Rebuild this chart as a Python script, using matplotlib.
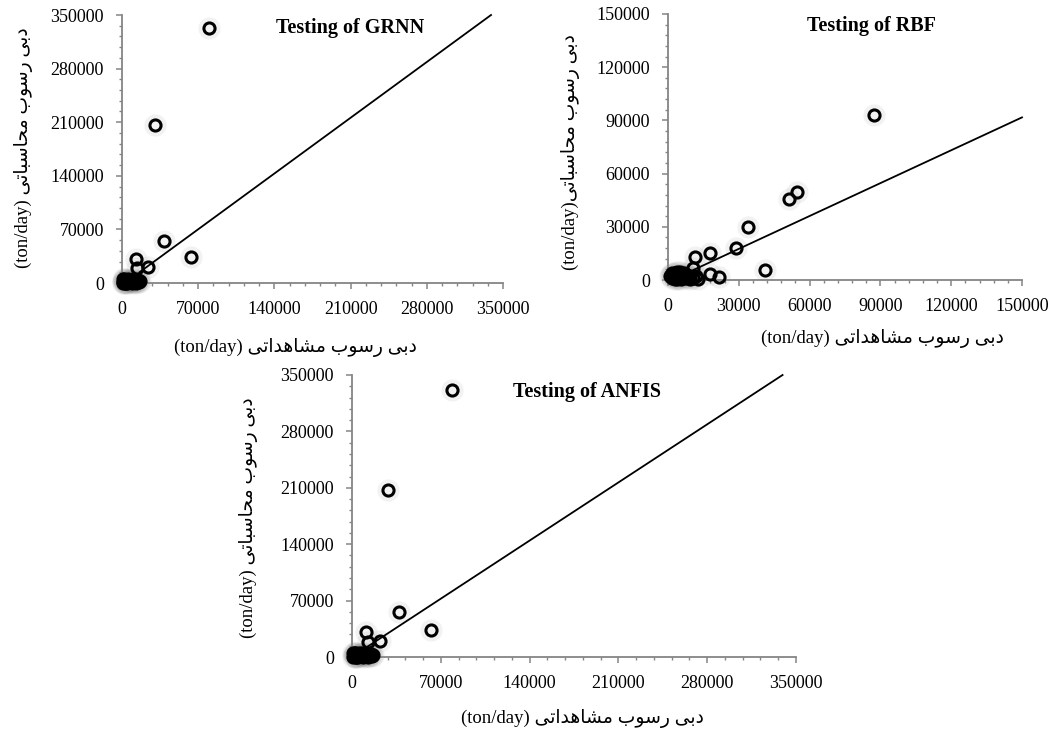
import matplotlib
matplotlib.use("Agg")
import matplotlib.pyplot as plt
from matplotlib.ticker import MultipleLocator

# ---------------- data ----------------
# GRNN testing: observed (x) vs computed (y), ton/day
grnn_obs = [79500, 30000, 38900, 63400, 12600, 23600, 14200,
            500, 1200, 2000, 3000, 4000, 5000, 6500, 8000, 9500, 11000,
            12500, 14000, 15500, 1500, 3500, 7000, 10000, 13000, 2500, 6000,
            800, 2200, 4500, 5800, 7500, 9000, 10500, 12000, 14800, 16500]
grnn_pred = [333000, 206300, 54400, 33500, 31300, 21300, 19200,
             300, 800, 1500, 600, 2500, 1200, 3000, 900, 2000, 1500,
             800, 2500, 1000, 3500, 400, 2200, 3000, 500, 4500, 4000,
             5000, 5500, 200, 5000, 4500, 600, 5200, 3800, 4200, 2000]
grnn_fit_x = [16000, 339000]
grnn_fit_y = [14000, 350000]

# RBF testing
rbf_obs = [87400, 54800, 51300, 33900, 28700, 41000, 17600, 11400, 17700, 21400, 10600, 12700,
           800, 1500, 2500, 3500, 4500, 5500, 6500, 7500, 8500, 9500, 2000, 3000, 4000, 5000,
           6000, 7000, 1200, 2800, 4200, 9000, 1800, 3800, 5200, 6800, 8200, 10500, 11800]
rbf_pred = [93000, 49400, 45500, 30100, 17800, 5600, 15400, 12800, 3400, 1700, 6600, 300,
            2000, 1000, 2500, 1500, 3000, 800, 2200, 1200, 1800, 600, 3500, 4000, 500, 2800,
            1500, 3200, 2600, 600, 1000, 2400, 4200, 4600, 4400, 3800, 3000, 1200, 2500]
rbf_fit_x = [9200, 150000]
rbf_fit_y = [4700, 91700]

# ANFIS testing
anfis_obs = [78700, 28300, 37100, 62300, 10800, 22100, 12900,
             500, 1200, 2000, 3000, 4000, 5000, 6500, 8000, 9500, 11000,
             12500, 14000, 15500, 1500, 3500, 7000, 10000, 13000, 2500, 6000,
             800, 2200, 4500, 5800, 7500, 9000, 10500, 12000, 14800, 16500]
anfis_pred = [332000, 207200, 55800, 33300, 31200, 20400, 19000,
              300, 800, 1500, 600, 2500, 1200, 3000, 900, 2000, 1500,
              800, 2500, 1000, 3500, 400, 2200, 3000, 500, 4500, 4000,
              5000, 5500, 200, 5000, 4500, 600, 5200, 3800, 4200, 2000]
anfis_fit_x = [10250, 339400]
anfis_fit_y = [10800, 350000]

ticks_350 = [0, 70000, 140000, 210000, 280000, 350000]
ticks_150 = [0, 30000, 60000, 90000, 120000, 150000]

titles = ["Testing of GRNN", "Testing of RBF", "Testing of ANFIS"]

# Persian labels, written in visual (shaped, left-to-right) order
def _s(codes):
    return "".join(chr(c) for c in codes)

w_dabi = _s([0xFBFD, 0xFE91, 0xFEA9])                                   # دبی
w_rosub = _s([0xFE8F, 0xFEEE, 0xFEB3, 0xFEAD])                          # رسوب
w_mohasebati = _s([0xFBFD, 0xFE97, 0xFE8E, 0xFE92, 0xFEB3, 0xFE8E, 0xFEA4, 0xFEE3])  # محاسباتی
w_moshahedati = _s([0xFBFD, 0xFE97, 0xFE8D, 0xFEAA, 0xFEEB, 0xFE8E, 0xFEB8, 0xFEE3])  # مشاهداتی

ylabel_txt = "(ton/day) " + w_mohasebati + " " + w_rosub + " " + w_dabi
ylabel_txt_rbf = "(ton/day)" + w_mohasebati + " " + w_rosub + " " + w_dabi
xlabel_txt = "(ton/day) " + w_moshahedati + " " + w_rosub + " " + w_dabi

# ---------------- figure ----------------
W, H = 1052, 734
fig = plt.figure(figsize=(W / 100, H / 100), dpi=100)
fig.patch.set_facecolor("white")

serif = ["Liberation Serif", "DejaVu Sans"]
grey = "#858585"


def px_axes(l, t, r, b):
    return fig.add_axes([l / W, 1 - b / H, (r - l) / W, (b - t) / H])


def style(ax, ticks, minor):
    lim = ticks[-1]
    ax.set_xlim(0, lim)
    ax.set_ylim(0, lim)
    ax.set_xticks(ticks)
    ax.set_yticks(ticks)
    ax.set_xticklabels([str(t) for t in ticks])
    ax.set_yticklabels([str(t) for t in ticks])
    ax.xaxis.set_minor_locator(MultipleLocator(minor))
    ax.yaxis.set_minor_locator(MultipleLocator(minor))
    for s in ["top", "right"]:
        ax.spines[s].set_visible(False)
    for s in ["left", "bottom"]:
        ax.spines[s].set_color(grey)
        ax.spines[s].set_linewidth(1.3)
    ax.tick_params(which="major", direction="out", length=4, width=1.1,
                   color=grey, pad=9, labelsize=13)
    ax.tick_params(which="minor", direction="out", length=2.5, width=1.0,
                   color=grey)
    for lab in ax.get_xticklabels() + ax.get_yticklabels():
        lab.set_fontfamily(serif)
    ax.patch.set_alpha(0)


def draw(ax, xs, ys, fx, fy, title, tx, ty):
    ax.plot(xs, ys, linestyle="none", marker="o", markersize=16,
            markerfacecolor="#888888", markeredgecolor="none", alpha=0.10,
            clip_on=False, zorder=3)
    ax.plot(xs, ys, linestyle="none", marker="o", markersize=8,
            markerfacecolor="none", markeredgecolor="black",
            markeredgewidth=2.2, clip_on=False, zorder=4)
    ax.plot(fx, fy, color="black", linewidth=1.3, zorder=5, clip_on=False)
    ax.text(tx, ty, title, transform=ax.transAxes, ha="center", va="center",
            fontsize=14.5, fontweight="bold", family=serif)


ax1 = px_axes(122, 15, 503, 283)
style(ax1, ticks_350, 14000)
draw(ax1, grnn_obs, grnn_pred, grnn_fit_x, grnn_fit_y, titles[0], 0.598, 0.951)

ax2 = px_axes(668, 14, 1022, 280)
style(ax2, ticks_150, 6000)
draw(ax2, rbf_obs, rbf_pred, rbf_fit_x, rbf_fit_y, titles[1], 0.576, 0.955)

ax3 = px_axes(352, 375, 796, 657)
style(ax3, ticks_350, 14000)
draw(ax3, anfis_obs, anfis_pred, anfis_fit_x, anfis_fit_y, titles[2], 0.529, 0.941)

# axis labels
lab_kw = dict(fontsize=13.5, family=serif, ha="center", va="center")
fig.text(24 / W, 1 - 148 / H, ylabel_txt, rotation=90, **lab_kw)
fig.text(570 / W, 1 - 152 / H, ylabel_txt_rbf, rotation=90, **lab_kw)
fig.text(248 / W, 1 - 518 / H, ylabel_txt, rotation=90, **lab_kw)

fig.text(295 / W, 1 - 347 / H, xlabel_txt, **lab_kw)
fig.text(882 / W, 1 - 338 / H, xlabel_txt, **lab_kw)
fig.text(582 / W, 1 - 718 / H, xlabel_txt, **lab_kw)

fig.savefig("out.png", dpi=100, facecolor="white")
